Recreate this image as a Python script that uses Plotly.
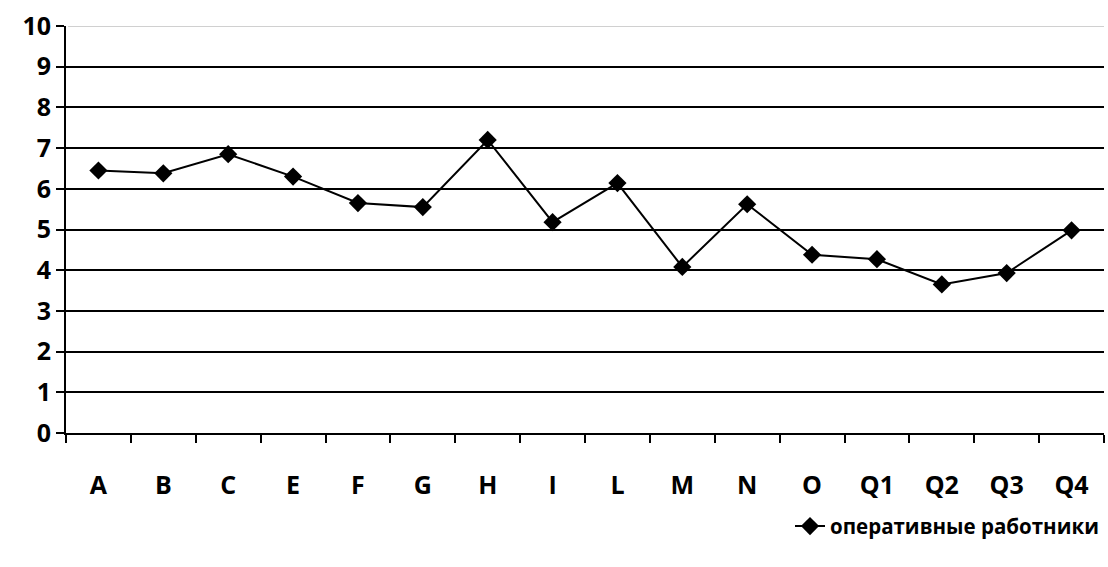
import plotly.graph_objects as go

categories = ["A", "B", "C", "E", "F", "G", "H", "I", "L", "M", "N", "O", "Q1", "Q2", "Q3", "Q4"]
values = [6.45, 6.38, 6.85, 6.3, 5.65, 5.55, 7.2, 5.18, 6.14, 4.08, 5.62, 4.38, 4.27, 3.65, 3.93, 4.98]
series_name = "оперативные работники"
y_ticks = list(range(0, 11))

FONT = "Open Sans"

fig = go.Figure()
fig.add_trace(go.Scatter(
    x=categories, y=values, mode="lines+markers", name=series_name,
    line=dict(color="black", width=2),
    marker=dict(symbol="diamond", size=14, color="black"),
))

fig.update_layout(
    width=1108, height=567,
    margin=dict(l=66, r=4, t=26, b=134),
    paper_bgcolor="white", plot_bgcolor="white",
    font=dict(family=FONT, color="black", size=20),
    showlegend=True,
    legend=dict(orientation="h", x=1.0, xanchor="right", y=-0.18, yanchor="top",
                font=dict(family=FONT, size=20.5, weight="bold"), bgcolor="rgba(0,0,0,0)"),
    xaxis=dict(type="category", showgrid=False, showline=True, linecolor="black", linewidth=2,
               ticks="outside", tickson="boundaries", ticklen=8, tickwidth=2, tickcolor="black",
               tickfont=dict(family=FONT, size=25, weight="bold"), ticklabelstandoff=29,
               automargin=False, range=[-0.5, len(categories) - 0.5]),
    yaxis=dict(range=[0, 10], tickvals=y_ticks, showgrid=True, gridcolor="black", gridwidth=2,
               showline=True, linecolor="black", linewidth=2, zeroline=False,
               ticks="outside", ticklen=8, tickwidth=2, tickcolor="black", automargin=False,
               tickfont=dict(family=FONT, size=25, weight="bold")),
    shapes=[dict(type="line", xref="paper", yref="y", x0=0.002, x1=1, y0=10, y1=10,
                 line=dict(color="#d0d0d0", width=2), layer="above")],
)

fig.write_html("out.html", config={"displayModeBar": False},
               post_script="document.body.style.margin='0';document.body.style.overflow='hidden';")
